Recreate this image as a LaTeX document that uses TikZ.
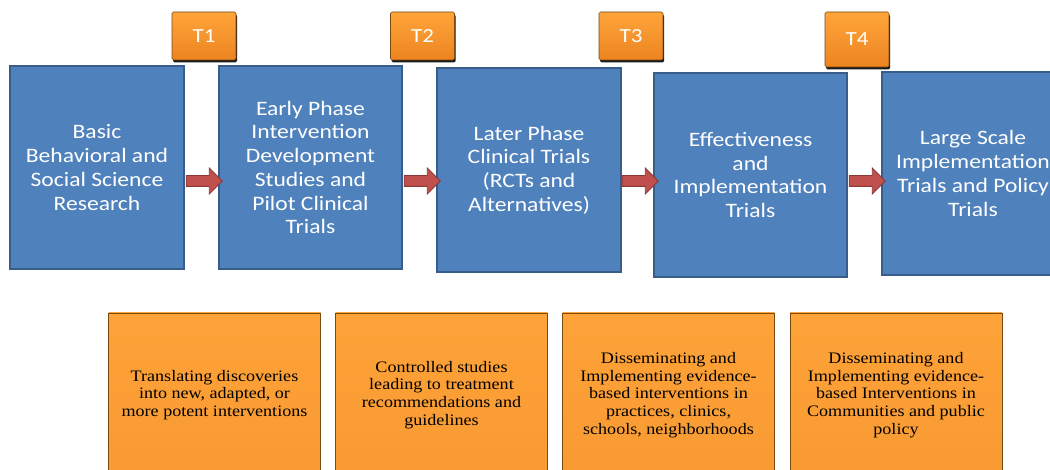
\documentclass[tikz,border=0pt]{standalone}
\usepackage{fontspec}
\setmainfont{Liberation Serif}
\newfontfamily\phasefont[FakeStretch=1.15]{Carlito}
\newfontfamily\notefont[FakeStretch=1.13]{Liberation Serif}
\usetikzlibrary{shapes.arrows,shadows}
\definecolor{phase}{HTML}{4F81BD}
\definecolor{phaseline}{HTML}{385D8A}
\definecolor{push}{HTML}{C0504D}
\definecolor{pushline}{HTML}{8C3836}
\definecolor{orangetop}{HTML}{FFA53A}
\definecolor{orangebot}{HTML}{EC8420}
\definecolor{notemid}{HTML}{F89A32}
\definecolor{orangeline}{HTML}{7A4A14}

\begin{document}
\begin{tikzpicture}[x=1pt,y=-1pt,
		phasebox/.style={draw=phaseline,line width=1.3pt,fill=phase,text=white,align=center,inner sep=0pt,
			font=\phasefont\fontsize{20.5}{23.7}\selectfont},
		tbox/.style={draw=orangeline,line width=0.6pt,rounded corners=1.5pt,top color=orangetop,bottom color=orangebot,
			text=white,minimum width=64pt,font=\phasefont\fontsize{20}{22}\selectfont,
			drop shadow={shadow xshift=1pt,shadow yshift=-2.5pt,fill=black,opacity=0.9}},
		notebox/.style={draw=orangeline,line width=0.6pt,top color=orangetop!80!notemid,bottom color=notemid,
			minimum width=212pt,minimum height=164pt,align=center,inner sep=0pt,
			font=\notefont\fontsize{16}{17.7}\selectfont},
		fatarrow/.style={single arrow,draw=pushline,fill=push,line width=0.8pt,inner xsep=0pt,inner ysep=5pt,
			single arrow head extend=7.5pt,minimum height=36pt}]
		%
		\useasboundingbox (0,0) rectangle (1050,470);
		\clip (0,0) rectangle (1050,470);
		%
		\node [phasebox,minimum width=174pt,minimum height=203pt] (basic) at (97,167.5)
			{Basic\\Behavioral and\\Social Science\\Research};
		\node [phasebox,minimum width=183pt,minimum height=203pt] (early) at (310.5,167.5)
			{Early Phase\\Intervention\\Development\\Studies and\\Pilot Clinical\\Trials};
		\node [phasebox,minimum width=184pt,minimum height=204pt] (later) at (529,170)
			{Later Phase\\Clinical Trials\\(RCTs and\\Alternatives)};
		\node [phasebox,minimum width=193pt,minimum height=204pt] (effect) at (750.5,175)
			{Effectiveness\\and\\Implementation\\Trials};
		\node [phasebox,minimum width=182pt,minimum height=203pt] (large) at (973,173.5)
			{Large Scale\\Implementation\\Trials and Policy\\Trials};
		%
		\coordinate (arrowrow) at (0,181);
		\path (basic.east |- arrowrow) -- (early.west |- arrowrow) node [midway,fatarrow] (a1) {};
		\path (early.east |- arrowrow) -- (later.west |- arrowrow) node [midway,fatarrow] (a2) {};
		\path (later.east |- arrowrow) -- (effect.west |- arrowrow) node [midway,fatarrow] (a3) {};
		\path (effect.east |- arrowrow) -- (large.west |- arrowrow) node [midway,fatarrow] (a4) {};
		%
		\node [tbox,minimum height=48pt] (t1) at (204,36) {T1};
		\node [tbox,minimum height=48pt] (t2) at (422.5,36) {T2};
		\node [tbox,minimum height=48pt] (t3) at (631,36) {T3};
		\node [tbox,minimum height=55pt] (t4) at (857,39.5) {T4};
		%
		\node [notebox] (n1) at (214.5,395)
			{Translating discoveries\\into new, adapted, or\\more potent interventions};
		\node [notebox] (n2) at (441.5,395)
			{Controlled studies\\leading to treatment\\recommendations and\\guidelines};
		\node [notebox] (n3) at (668.5,395)
			{Disseminating and\\Implementing evidence-\\based interventions in\\practices, clinics,\\schools, neighborhoods};
		\node [notebox] (n4) at (896,395)
			{Disseminating and\\Implementing evidence-\\based Interventions in\\Communities and public\\policy};
		%
	\end{tikzpicture}
\end{document}
